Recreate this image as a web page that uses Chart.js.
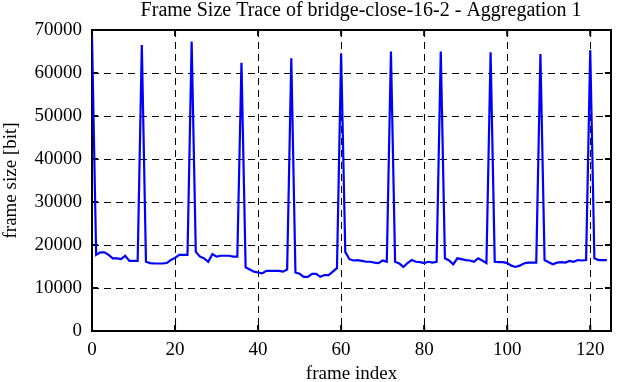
<!DOCTYPE html>
<html lang="en">
<head>
    <meta charset="UTF-8">
    <title>Frame Size Trace</title>
    <style>
        * { margin: 0; padding: 0; box-sizing: border-box; }
        body { background: #fff; }
        .wrap { width: 622px; height: 382px; }
    </style>
</head>
<body>
    <div class="wrap">
        <canvas id="traceChart" width="622" height="382"></canvas>
    </div>

    <script src="https://cdn.jsdelivr.net/npm/chart.js@4/dist/chart.umd.min.js"></script>
    <script>
        // Data
        const chartTitle = 'Frame Size Trace of bridge-close-16-2 - Aggregation 1';
        const frameSizes = [
            68500, 17700, 18300, 18300, 17700, 16900, 16900, 16700, 17500, 16300,
            16300, 16300, 66500, 16100, 15800, 15700, 15700, 15700, 15800, 16500,
            17000, 17700, 17700, 17700, 67300, 18400, 17300, 16900, 16100, 17900,
            17300, 17500, 17500, 17500, 17300, 17300, 62400, 14800, 14300, 13800,
            13600, 13400, 14000, 14000, 14000, 14000, 13800, 14300, 63400, 13600,
            13300, 12600, 12600, 13300, 13300, 12600, 13000, 13000, 13800, 14600,
            64600, 18400, 16700, 16400, 16500, 16300, 16100, 16100, 15900, 15800,
            16400, 16100, 65000, 16100, 15700, 14900, 15800, 16500, 16100, 16000,
            15800, 16100, 15900, 16100, 65000, 16900, 16400, 15500, 16900, 16700,
            16500, 16400, 16100, 16900, 16400, 15800, 64800, 16100, 16000, 16000,
            15800, 15200, 14900, 15200, 15700, 15900, 15900, 15900, 64400, 16500,
            16000, 15500, 15900, 16000, 15900, 16300, 16100, 16500, 16400, 16500,
            65300, 16900, 16500, 16500, 16500
        ];
        const frameIndex = frameSizes.map((v, i) => i);
        const xTicks = [0, 20, 40, 60, 80, 100, 120];
        const yTicks = [0, 10000, 20000, 30000, 40000, 50000, 60000, 70000];

        const serif = '"Liberation Serif", "Times New Roman", serif';

        // box round the plot, inner tick marks and the title
        const frameBox = {
            id: 'frameBox',
            beforeDatasetsDraw(chart) {
                const { ctx, chartArea: a, scales: { x, y } } = chart;
                ctx.save();
                ctx.strokeStyle = '#000';
                ctx.lineWidth = 2;
                ctx.strokeRect(a.left, a.top, a.right - a.left, a.bottom - a.top);
                ctx.beginPath();
                x.ticks.forEach(t => {
                    const px = x.getPixelForValue(t.value);
                    ctx.moveTo(px, a.bottom); ctx.lineTo(px, a.bottom - 6);
                    ctx.moveTo(px, a.top); ctx.lineTo(px, a.top + 6);
                });
                y.ticks.forEach(t => {
                    const py = y.getPixelForValue(t.value);
                    ctx.moveTo(a.left, py); ctx.lineTo(a.left + 6, py);
                    ctx.moveTo(a.right, py); ctx.lineTo(a.right - 6, py);
                });
                ctx.stroke();
                ctx.restore();
            },
            afterDraw(chart) {
                const ctx = chart.ctx;
                ctx.save();
                ctx.fillStyle = '#000';
                ctx.font = '20px ' + serif;
                ctx.textAlign = 'center';
                ctx.textBaseline = 'alphabetic';
                ctx.fillText(chartTitle, 361, 16);
                ctx.restore();
            }
        };

        new Chart(document.getElementById('traceChart'), {
            type: 'line',
            data: {
                datasets: [{
                    label: 'frame size',
                    data: frameSizes.map((v, i) => ({ x: frameIndex[i], y: v })),
                    borderColor: '#0000ff',
                    borderWidth: 2.2,
                    pointRadius: 0,
                    tension: 0,
                    fill: false
                }]
            },
            options: {
                responsive: false,
                animation: false,
                layout: { padding: { top: 30, right: 11, left: 0, bottom: 0 } },
                plugins: {
                    legend: { display: false },
                    title: { display: false },
                    tooltip: { enabled: false }
                },
                scales: {
                    x: {
                        type: 'linear',
                        min: 0,
                        max: 125,
                        afterBuildTicks: s => { s.ticks = xTicks.map(v => ({ value: v })); },
                        afterFit: s => { s.height = 51; },
                        grid: { color: '#000', lineWidth: 1, drawTicks: false },
                        border: { display: false, dash: [7, 5] },
                        ticks: {
                            color: '#000',
                            padding: 8,
                            maxRotation: 0,
                            font: { family: serif, size: 19 }
                        },
                        title: {
                            display: true,
                            text: 'frame index',
                            color: '#000',
                            padding: { top: 0, bottom: -3 },
                            font: { family: serif, size: 19 }
                        }
                    },
                    y: {
                        min: 0,
                        max: 70000,
                        afterBuildTicks: s => { s.ticks = yTicks.map(v => ({ value: v })); },
                        afterFit: s => { s.width = 92; },
                        grid: { color: '#000', lineWidth: 1, drawTicks: false },
                        border: { display: false, dash: [7, 5] },
                        ticks: {
                            color: '#000',
                            padding: 10,
                            font: { family: serif, size: 19 },
                            callback: v => String(v)
                        },
                        title: {
                            display: true,
                            text: 'frame size [bit]',
                            color: '#000',
                            padding: { top: 0, bottom: 0 },
                            font: { family: serif, size: 19 }
                        }
                    }
                }
            },
            plugins: [frameBox]
        });
    </script>
</body>
</html>
